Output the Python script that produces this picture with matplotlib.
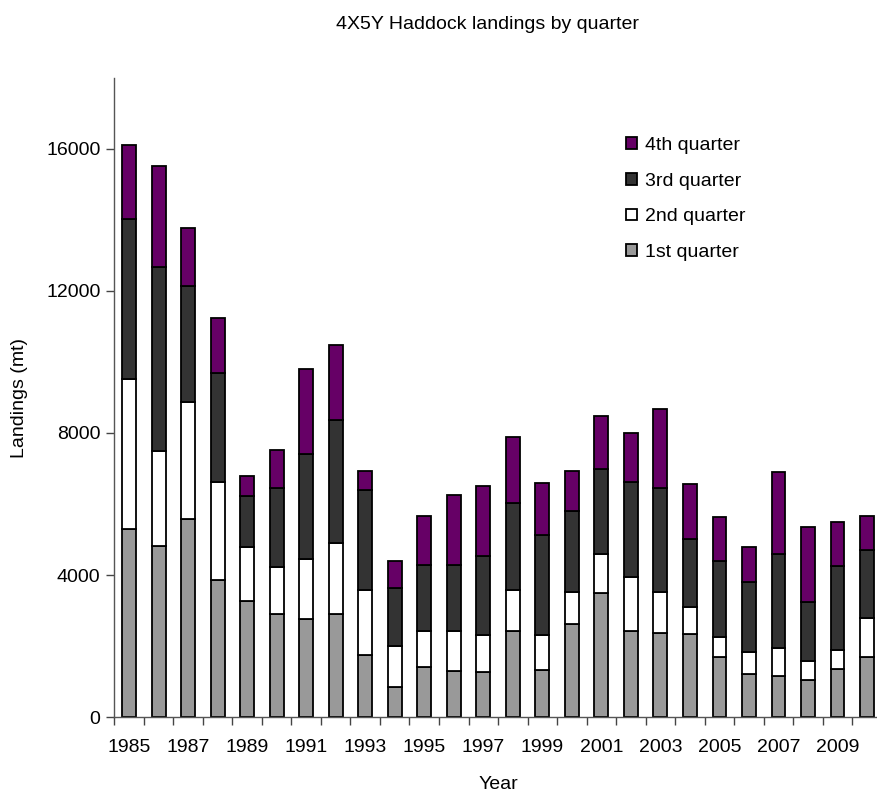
import matplotlib
matplotlib.use("Agg")
import matplotlib.pyplot as plt
from matplotlib.patches import Patch
import numpy as np

plt.rcParams['font.family'] = ['Liberation Sans', 'DejaVu Sans']

years = list(range(1985, 2011))
q1 = [5300, 4820, 5570, 3860, 3270, 2910, 2750, 2910, 1750, 850, 1420, 1300, 1270,
      2430, 1320, 2630, 3480, 2430, 2370, 2330, 1700, 1210, 1160, 1040, 1360, 1700]
q2 = [4230, 2680, 3310, 2750, 1530, 1320, 1690, 1990, 1830, 1150, 1000, 1120, 1050,
      1160, 1000, 900, 1100, 1510, 1150, 780, 560, 630, 770, 550, 540, 1100]
q3 = [4500, 5170, 3250, 3080, 1430, 2220, 2980, 3480, 2810, 1630, 1870, 1860, 2220,
      2440, 2820, 2280, 2410, 2680, 2940, 1910, 2130, 1970, 2660, 1640, 2340, 1900]
q4 = [2080, 2860, 1650, 1540, 550, 1070, 2380, 2110, 550, 760, 1370, 1960, 1970,
      1870, 1460, 1120, 1480, 1380, 2230, 1550, 1230, 970, 2300, 2130, 1260, 960]
series_names = ['1st quarter', '2nd quarter', '3rd quarter', '4th quarter']
colors = ['#999999', '#ffffff', '#333333', '#660066']
yticks = [0, 4000, 8000, 12000, 16000]

W, H = 878, 800
fig = plt.figure(figsize=(W / 100, H / 100), dpi=100)
left_px, right_px, bottom_px, top_px = 114.3, 881.8, 717, 78
ax = fig.add_axes([left_px / W, 1 - bottom_px / H,
                   (right_px - left_px) / W, (bottom_px - top_px) / H])

x = np.arange(len(years))
bottom = np.zeros(len(years))
handles = []
for vals, name, col in zip([q1, q2, q3, q4], series_names, colors):
    ax.bar(x, vals, width=0.47, bottom=bottom, color=col, edgecolor='black',
           linewidth=1.3, label=name)
    bottom += np.array(vals)
    handles.append(Patch(facecolor=col, edgecolor='black', linewidth=1.3, label=name))

ax.set_xlim(-0.5, len(years) - 0.5)
ax.set_ylim(0, 18000)
ax.set_yticks(yticks)
ax.set_yticklabels([str(v) for v in yticks], fontsize=14)
ax.set_xticks(x[::2])
ax.set_xticklabels([str(y) for y in years[::2]], fontsize=14)
ax.set_xticks(np.arange(len(years) + 1) - 0.5, minor=True)
ax.tick_params(axis='x', which='major', length=0, pad=16)
ax.tick_params(axis='x', which='minor', length=6, width=1, color='#444444', direction='out')
ax.tick_params(axis='y', length=6, width=1, color='#444444', direction='out', pad=4)
for s in ['top', 'right']:
    ax.spines[s].set_visible(False)
for s in ['left', 'bottom']:
    ax.spines[s].set_color('#555555')
    ax.spines[s].set_linewidth(1)

ax.set_xlabel('Year', fontsize=14, labelpad=14)
ax.set_ylabel('Landings (mt)', fontsize=14, labelpad=13)

fig.text(488 / W, 1 - 29 / H, '4X5Y Haddock landings by quarter', fontsize=14,
         ha='center', va='baseline')

fig.legend(handles=handles[::-1], loc='upper left',
           bbox_to_anchor=(626 / W, 1 - 137 / H), frameon=False, fontsize=14,
           handlelength=0.55, handleheight=0.55, handletextpad=0.45,
           labelspacing=0.96, borderpad=0, borderaxespad=0)

fig.savefig('out.png', dpi=100)
